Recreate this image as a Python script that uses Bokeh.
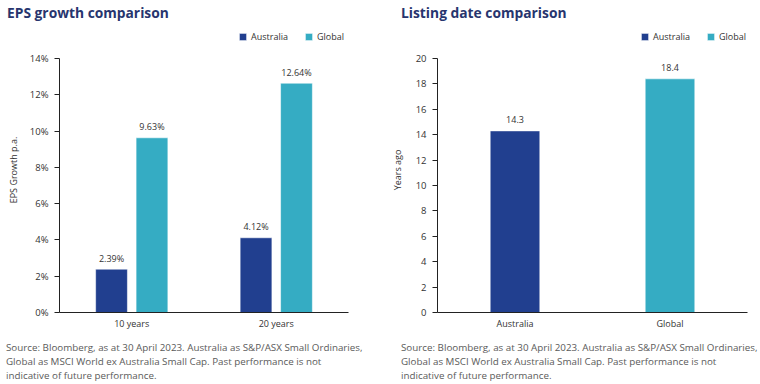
from bokeh.plotting import figure
from bokeh.models import (FactorRange, Range1d, ColumnDataSource, LabelSet, Div,
                          Legend, LegendItem, FixedTicker, PrintfTickFormatter)
from bokeh.core.properties import value
from bokeh.transform import dodge
from bokeh.layouts import row, column
from bokeh.embed import file_html
from bokeh.resources import INLINE

# ---- data ----
periods = ["10 years", "20 years"]
eps_australia = [2.39, 4.12]
eps_global = [9.63, 12.64]
eps_ticks = [0, 2, 4, 6, 8, 10, 12, 14]
eps_max = 14

regions = ["Australia", "Global"]
listing_years = [14.3, 18.4]
listing_ticks = [0, 2, 4, 6, 8, 10, 12, 14, 16, 18, 20]
listing_max = 20

AUS = "#213f8f"
GLB = "#35acc3"
TITLE_C = "#27356e"
TEXT_C = "#333333"
SRC_C = "#5a5a5a"
FONT = "Open Sans"

source_lines = [
    "Source: Bloomberg, as at 30 April 2023. Australia as S&amp;P/ASX Small Ordinaries,",
    "Global as MSCI World ex Australia Small Cap. Past performance is not",
    "indicative of future performance.",
]

# layout constants (pixels)
PANEL_W = 380
TITLE_H = 25
FIG_H = 309
SRC_H = 50
FRAME_TOP_PAD = 2
FRAME_BOTTOM_PAD = 22
FRAME_H = FIG_H - FRAME_TOP_PAD - FRAME_BOTTOM_PAD   # 285
AXIS_H = 254                                        # pixel length of the value axis
LEG_FROM_TOP = 7


def style(p, ylabel, ticks, vmax, label_standoff):
    p.toolbar.logo = None
    p.outline_line_color = None
    p.xgrid.grid_line_color = None
    p.ygrid.grid_line_color = None
    ya = p.yaxis[0]
    ya.ticker = FixedTicker(ticks=ticks)
    ya.bounds = (0, vmax)
    ya.axis_line_color = "#222222"
    ya.major_tick_line_color = "#222222"
    ya.major_tick_out = 5
    ya.major_tick_in = 0
    ya.minor_tick_line_color = None
    ya.major_label_standoff = 6
    ya.major_label_text_font = FONT
    ya.major_label_text_font_size = "9.5px"
    ya.major_label_text_color = TEXT_C
    ya.axis_label = ylabel
    ya.axis_label_text_font = FONT
    ya.axis_label_text_font_size = "9px"
    ya.axis_label_text_font_style = "normal"
    ya.axis_label_text_color = TEXT_C
    ya.axis_label_standoff = label_standoff
    xa = p.xaxis[0]
    xa.axis_line_color = "#222222"
    xa.major_tick_line_color = None
    xa.minor_tick_line_color = None
    xa.major_tick_out = 0
    xa.major_label_standoff = 4
    xa.major_label_text_font = FONT
    xa.major_label_text_font_size = "9px"
    xa.major_label_text_color = TEXT_C


def make_legend(items, x):
    return Legend(items=items, location=(x, FRAME_H - LEG_FROM_TOP - 9),
                  orientation="horizontal", padding=0, margin=0, spacing=16,
                  glyph_width=9, glyph_height=9, label_height=9, label_standoff=4,
                  label_text_font=FONT, label_text_font_size="9px",
                  label_text_color=TEXT_C, border_line_color=None,
                  background_fill_alpha=0)


def title_div(text, pad):
    return Div(text=(f'<div style="font-family:\'Open Sans\';font-weight:bold;font-size:13.8px;'
                     f'line-height:{TITLE_H}px;color:{TITLE_C};white-space:nowrap;'
                     f'padding-left:{pad}px">{text}</div>'),
               width=PANEL_W, height=TITLE_H, margin=0)


def source_div(pad):
    return Div(text=(f'<div style="font-family:\'Open Sans\';font-size:9.8px;line-height:14px;'
                     f'color:{SRC_C};white-space:nowrap;padding-left:{pad}px;padding-top:7px">'
                     + "<br>".join(source_lines) + '</div>'),
               width=PANEL_W, height=SRC_H, margin=0)


# ---------- left chart ----------
src1 = ColumnDataSource(dict(
    period=periods, aus=eps_australia, glb=eps_global,
    aus_lbl=[f"{v:.2f}%" for v in eps_australia],
    glb_lbl=[f"{v:.2f}%" for v in eps_global],
))
p1 = figure(width=PANEL_W, height=FIG_H, x_range=FactorRange(factors=periods, range_padding=0),
            y_range=Range1d(0, eps_max * FRAME_H / AXIS_H), output_backend="svg",
            toolbar_location=None, min_border_left=59, min_border_right=32,
            min_border_top=FRAME_TOP_PAD, min_border_bottom=FRAME_BOTTOM_PAD, margin=0)
r1a = p1.vbar(x=dodge("period", -0.14, range=p1.x_range), top="aus", width=0.22, source=src1,
              fill_color=AUS, line_color="white", line_alpha=0.55)
r1g = p1.vbar(x=dodge("period", 0.14, range=p1.x_range), top="glb", width=0.22, source=src1,
              fill_color=GLB, line_color="white", line_alpha=0.55)
for col, off in (("aus", -0.14), ("glb", 0.14)):
    p1.add_layout(LabelSet(x=dodge("period", off, range=p1.x_range), y=col, text=col + "_lbl",
                           source=src1, y_offset=11, text_align="center",
                           text_baseline="middle", text_font=value(FONT),
                           text_font_size=value("9px"), text_color=TEXT_C))
style(p1, "EPS Growth p.a.", eps_ticks, eps_max, 7)
p1.yaxis[0].formatter = PrintfTickFormatter(format="%d%%")
p1.add_layout(make_legend([LegendItem(label="Australia", renderers=[r1a]),
                           LegendItem(label="Global", renderers=[r1g])], 179))

# ---------- right chart ----------
src2a = ColumnDataSource(dict(region=[regions[0]], years=[listing_years[0]],
                              lbl=[f"{listing_years[0]:.1f}"]))
src2g = ColumnDataSource(dict(region=[regions[1]], years=[listing_years[1]],
                              lbl=[f"{listing_years[1]:.1f}"]))
p2 = figure(width=PANEL_W, height=FIG_H, x_range=FactorRange(factors=regions, range_padding=0),
            y_range=Range1d(0, listing_max * FRAME_H / AXIS_H), output_backend="svg",
            toolbar_location=None, min_border_left=57, min_border_right=13,
            min_border_top=FRAME_TOP_PAD, min_border_bottom=FRAME_BOTTOM_PAD, margin=0)
r2a = p2.vbar(x="region", top="years", width=0.32, source=src2a, fill_color=AUS,
              line_color="white", line_alpha=0.55)
r2g = p2.vbar(x="region", top="years", width=0.32, source=src2g, fill_color=GLB,
              line_color="white", line_alpha=0.55)
for s in (src2a, src2g):
    p2.add_layout(LabelSet(x="region", y="years", text="lbl", source=s, y_offset=11,
                           text_align="center", text_baseline="middle",
                           text_font=value(FONT), text_font_size=value("9px"),
                           text_color=TEXT_C))
style(p2, "Years ago", listing_ticks, listing_max, 9)
p2.add_layout(make_legend([LegendItem(label="Australia", renderers=[r2a]),
                           LegendItem(label="Global", renderers=[r2g])], 203))

layout = column(
    row(title_div("EPS growth comparison", 7), title_div("Listing date comparison", 21),
        spacing=0),
    row(p1, p2, spacing=0),
    row(source_div(6), source_div(21), spacing=0),
    spacing=0,
)
open("out.html", "w").write(file_html(layout, INLINE))
